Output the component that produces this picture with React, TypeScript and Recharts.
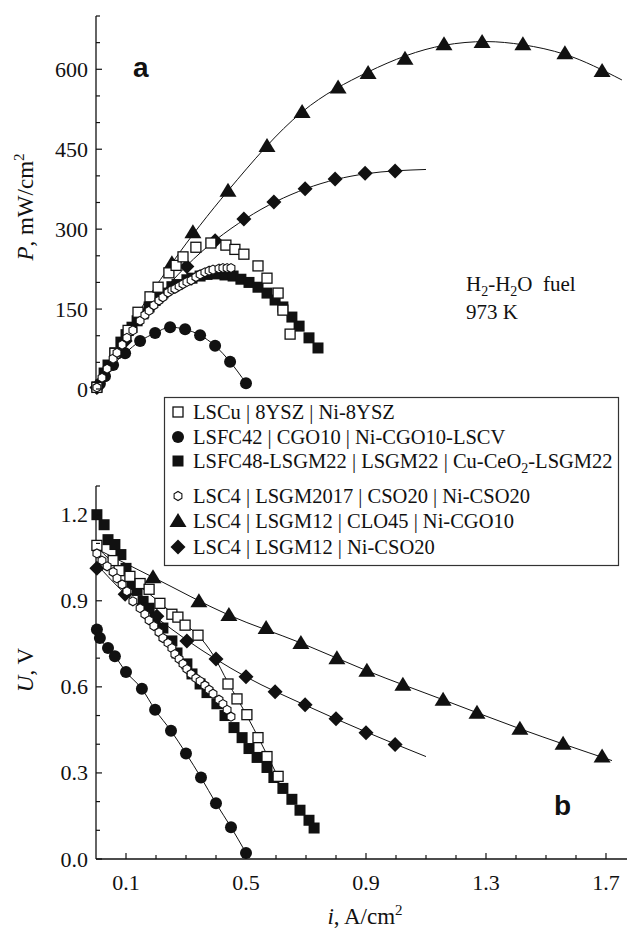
import React from 'react';
import { ComposedChart, Line, Scatter, XAxis, YAxis } from 'recharts';

const serif = "'Liberation Serif', 'Times New Roman', serif";
const sans = "'Liberation Sans', Arial, sans-serif";
const INK = '#111';

// ---------- Panel a : power density P (mW/cm2) vs i (A/cm2) ----------
const aLSCu_i = [0.003, 0.063, 0.107, 0.14, 0.18, 0.207, 0.243, 0.267, 0.29, 0.333, 0.383, 0.433, 0.463, 0.493, 0.54, 0.57, 0.607, 0.623, 0.647];
const aLSCu_P = [3, 67, 110, 144, 173, 191, 218, 232, 248, 266, 274, 270, 262, 253, 231, 208, 180, 148, 103];

const aLSFC42_i = [0.003, 0.013, 0.03, 0.057, 0.097, 0.147, 0.197, 0.247, 0.297, 0.347, 0.397, 0.447, 0.5];
const aLSFC42_P = [3, 10, 24, 45, 67, 90, 105, 116, 112, 101, 81, 51, 11];

const aLSFC48_i = [0.003, 0.027, 0.04, 0.063, 0.083, 0.1, 0.12, 0.137, 0.157, 0.177, 0.197, 0.223, 0.253, 0.27, 0.303, 0.32, 0.347, 0.37, 0.403, 0.43, 0.457, 0.483, 0.51, 0.54, 0.57, 0.597, 0.623, 0.653, 0.677, 0.71, 0.74];
const aLSFC48_P = [4, 30, 45, 68, 88, 102, 116, 128, 141, 154, 166, 180, 192, 196, 205, 208, 212, 215, 216, 214, 212, 206, 200, 191, 180, 167, 154, 135, 118, 96, 77];

const aLSC2017_i = [0.003, 0.02, 0.037, 0.057, 0.07, 0.087, 0.103, 0.123, 0.147, 0.163, 0.177, 0.193, 0.21, 0.223, 0.24, 0.253, 0.263, 0.277, 0.29, 0.303, 0.317, 0.333, 0.347, 0.363, 0.377, 0.39, 0.41, 0.423, 0.437, 0.45];
const aLSC2017_P = [3, 21, 38, 57, 68, 83, 96, 110, 128, 139, 147, 157, 166, 172, 181, 186, 188, 193, 197, 201, 204, 210, 215, 219, 222, 224, 226, 227, 227, 227];

const aCLO45_i = [0.253, 0.323, 0.44, 0.57, 0.687, 0.807, 0.907, 1.03, 1.16, 1.287, 1.423, 1.563, 1.687];
const aCLO45_P = [236, 294, 372, 456, 520, 566, 593, 620, 647, 651, 647, 630, 597];
const aCLO45fit_i = [0, 0.1, 0.253, 0.44, 0.687, 0.907, 1.16, 1.3, 1.423, 1.563, 1.753];
const aCLO45fit_P = [0, 105, 236, 372, 520, 595, 645, 652, 646, 628, 580];

const aCSO_i = [0.003, 0.097, 0.203, 0.303, 0.397, 0.493, 0.593, 0.697, 0.797, 0.897, 0.997];
const aCSO_P = [3, 90, 172, 230, 278, 319, 351, 376, 394, 405, 409];
const aCSOfit_i = [0, 0.1, 0.3, 0.5, 0.7, 0.9, 1.1];
const aCSOfit_P = [0, 92, 230, 320, 376, 404, 412];

// ---------- Panel b : cell voltage U (V) vs i (A/cm2) ----------
const bLSCu_i = [0.003, 0.057, 0.077, 0.113, 0.147, 0.177, 0.213, 0.253, 0.273, 0.297, 0.34, 0.44, 0.47, 0.503, 0.54, 0.57, 0.607];
const bLSCu_U = [1.093, 1.04, 1.005, 0.985, 0.96, 0.94, 0.891, 0.853, 0.843, 0.815, 0.78, 0.61, 0.558, 0.503, 0.423, 0.357, 0.288];
const bLSCufit_i = [0, 0.1, 0.2, 0.3, 0.34, 0.39, 0.44, 0.5, 0.55, 0.607];
const bLSCufit_U = [1.09, 0.99, 0.905, 0.815, 0.78, 0.712, 0.615, 0.505, 0.405, 0.285];

const bLSFC42_i = [0.003, 0.013, 0.04, 0.063, 0.1, 0.153, 0.197, 0.25, 0.3, 0.35, 0.4, 0.45, 0.5];
const bLSFC42_U = [0.8, 0.77, 0.735, 0.707, 0.652, 0.593, 0.52, 0.447, 0.368, 0.284, 0.194, 0.111, 0.021];

const bLSFC48_i = [0.003, 0.027, 0.04, 0.063, 0.083, 0.1, 0.12, 0.137, 0.157, 0.177, 0.197, 0.223, 0.253, 0.27, 0.303, 0.32, 0.347, 0.37, 0.403, 0.43, 0.46, 0.487, 0.51, 0.537, 0.57, 0.593, 0.623, 0.653, 0.68, 0.71, 0.727];
const bLSFC48_U = [1.2, 1.165, 1.113, 1.096, 1.061, 1.013, 0.957, 0.936, 0.898, 0.874, 0.839, 0.805, 0.76, 0.718, 0.68, 0.645, 0.61, 0.58, 0.541, 0.5, 0.458, 0.423, 0.385, 0.354, 0.319, 0.284, 0.246, 0.208, 0.17, 0.135, 0.108];

const bLSC2017_i = [0.003, 0.02, 0.037, 0.057, 0.07, 0.087, 0.103, 0.123, 0.147, 0.163, 0.177, 0.193, 0.21, 0.223, 0.24, 0.253, 0.263, 0.277, 0.29, 0.303, 0.317, 0.333, 0.347, 0.363, 0.377, 0.39, 0.41, 0.423, 0.437, 0.45];
const bLSC2017_U = [1.065, 1.04, 1.02, 1.0, 0.978, 0.957, 0.933, 0.898, 0.874, 0.853, 0.832, 0.812, 0.79, 0.77, 0.753, 0.735, 0.714, 0.697, 0.68, 0.662, 0.645, 0.63, 0.62, 0.605, 0.59, 0.576, 0.555, 0.54, 0.52, 0.496];
const bLSC2017fit_i = [0, 0.1, 0.2, 0.3, 0.4, 0.45];
const bLSC2017fit_U = [1.075, 0.937, 0.805, 0.668, 0.565, 0.497];

const bCLO45_i = [0.19, 0.343, 0.443, 0.567, 0.683, 0.803, 0.903, 1.023, 1.157, 1.27, 1.413, 1.557, 1.687];
const bCLO45_U = [0.982, 0.898, 0.85, 0.805, 0.753, 0.7, 0.656, 0.607, 0.555, 0.51, 0.454, 0.402, 0.357];
const bCLO45fit_i = [0, 0.19, 0.443, 0.683, 0.903, 1.157, 1.413, 1.72];
const bCLO45fit_U = [1.082, 0.982, 0.85, 0.753, 0.656, 0.555, 0.454, 0.343];

const bCSO_i = [0.003, 0.097, 0.203, 0.303, 0.4, 0.5, 0.597, 0.697, 0.8, 0.9, 0.997];
const bCSO_U = [1.013, 0.923, 0.846, 0.76, 0.697, 0.635, 0.583, 0.538, 0.489, 0.44, 0.399];
const bCSOfit_i = [0, 0.097, 0.2, 0.3, 0.5, 0.7, 0.9, 1.1];
const bCSOfit_U = [1.03, 0.925, 0.842, 0.765, 0.635, 0.535, 0.443, 0.357];

// ---------- axes ----------
const xDomain = [0, 1.7767];
const xTicksBottom = [0.1, 0.2, 0.3, 0.4, 0.5, 0.6, 0.7, 0.8, 0.9, 1.0, 1.1, 1.2, 1.3, 1.4, 1.5, 1.6, 1.7];
const xLabelsBottom = [0.1, 0.5, 0.9, 1.3, 1.7];
const xTicksTop = [0.2, 0.4, 0.6, 0.8, 1.0, 1.2, 1.4, 1.6];
const pDomain = [0, 700];
const pTicks = [0, 50, 100, 150, 200, 250, 300, 350, 400, 450, 500, 550, 600, 650, 700];
const pLabels = [0, 150, 300, 450, 600];
const uDomain = [0, 1.3];
const uTicks = [0, 0.1, 0.2, 0.3, 0.4, 0.5, 0.6, 0.7, 0.8, 0.9, 1.0, 1.1, 1.2, 1.3];
const uLabels = [0, 0.3, 0.6, 0.9, 1.2];

const legendNames = [
  'LSCu | 8YSZ | Ni-8YSZ',
  'LSFC42 | CGO10 | Ni-CGO10-LSCV',
  'LSFC48-LSGM22 | LSGM22 | Cu-CeO2-LSGM22',
  'LSC4 | LSGM2017 | CSO20 | Ni-CSO20',
  'LSC4 | LSGM12 | CLO45 | Ni-CGO10',
  'LSC4 | LSGM12 | Ni-CSO20',
];

const zip = (xs: number[], ys: number[]) => xs.map((x, k) => ({ i: x, v: ys[k] }));
const has = (arr: number[], v: number) => arr.some((a) => Math.abs(a - v) < 1e-6);

// ---------- markers ----------
const OpenSquare = ({ cx, cy }: any) => (
  <rect x={cx - 5} y={cy - 5} width={10} height={10} fill="#fff" stroke={INK} strokeWidth={1.3} />
);
const FilledCircle = ({ cx, cy }: any) => <circle cx={cx} cy={cy} r={6} fill={INK} />;
const FilledSquare = ({ cx, cy }: any) => (
  <rect x={cx - 5.5} y={cy - 5.5} width={11} height={11} fill={INK} />
);
const Hexagon = ({ cx, cy }: any) => {
  const r = 4.5;
  const pts = [0, 1, 2, 3, 4, 5]
    .map((k) => {
      const a = (Math.PI / 3) * k + Math.PI / 6;
      return `${cx + r * Math.cos(a)},${cy + r * Math.sin(a)}`;
    })
    .join(' ');
  return <polygon points={pts} fill="#fff" stroke={INK} strokeWidth={1.1} />;
};
const Triangle = ({ cx, cy }: any) => (
  <polygon points={`${cx},${cy - 8} ${cx + 8.5},${cy + 6} ${cx - 8.5},${cy + 6}`} fill={INK} />
);
const Diamond = ({ cx, cy }: any) => (
  <polygon points={`${cx},${cy - 7.5} ${cx + 7.5},${cy} ${cx},${cy + 7.5} ${cx - 7.5},${cy}`} fill={INK} />
);

// ---------- ticks ----------
const LeftTick = ({ x, y, payload, labels, digits }: any) => {
  const v = payload.value;
  const major = has(labels, v);
  return (
    <g>
      <line x1={x} y1={y} x2={x + (major ? 6 : 4)} y2={y} stroke={INK} strokeWidth={1.2} />
      {major && (
        <text x={x - 8} y={y + 7.5} textAnchor="end" fontFamily={serif} fontSize={22} fill={INK}>
          {v.toFixed(digits)}
        </text>
      )}
    </g>
  );
};
const RightTick = ({ x, y, payload, labels }: any) => {
  const major = has(labels, payload.value);
  if (!major) return <g />;
  return <line x1={x - 5} y1={y} x2={x} y2={y} stroke={INK} strokeWidth={1.2} />;
};
const TopTick = ({ x, y }: any) => <line x1={x} y1={y} x2={x} y2={y + 6} stroke={INK} strokeWidth={1.2} />;
const BottomTick = ({ x, y, payload }: any) => {
  const v = payload.value;
  const major = has(xLabelsBottom, v);
  return (
    <g>
      <line x1={x} y1={y} x2={x} y2={y - (major ? 6 : 4)} stroke={INK} strokeWidth={1.2} />
      {major && (
        <text x={x} y={y + 31} textAnchor="middle" fontFamily={serif} fontSize={22} fill={INK}>
          {v.toFixed(1)}
        </text>
      )}
    </g>
  );
};

const TopPanel = () => (
  <ComposedChart width={640} height={400} margin={{ top: 16, right: 11, bottom: 11, left: 0 }}>
    <XAxis
      type="number"
      dataKey="i"
      orientation="top"
      domain={xDomain}
      ticks={xTicksTop}
      interval={0}
      height={0}
      tickSize={0}
      tickMargin={0}
      tickLine={false}
      axisLine={{ stroke: INK, strokeWidth: 1.3 }}
      tick={(p: any) => <TopTick {...p} />}
    />
    <YAxis
      yAxisId="l"
      type="number"
      domain={pDomain}
      ticks={pTicks}
      interval={0}
      width={96}
      tickSize={0}
      tickMargin={0}
      tickLine={false}
      axisLine={{ stroke: INK, strokeWidth: 1.3 }}
      tick={(p: any) => <LeftTick {...p} labels={pLabels} digits={0} />}
    />
    <YAxis
      yAxisId="r"
      orientation="right"
      type="number"
      domain={pDomain}
      ticks={pTicks}
      interval={0}
      width={0}
      tickSize={0}
      tickMargin={0}
      tickLine={false}
      axisLine={false}
      tick={(p: any) => <RightTick {...p} labels={pLabels} />}
    />
    <Line yAxisId="l" data={zip(aLSFC42_i, aLSFC42_P)} dataKey="v" type="monotone" stroke={INK} strokeWidth={1} dot={false} activeDot={false} isAnimationActive={false} />
    <Line yAxisId="l" data={zip(aCLO45fit_i, aCLO45fit_P)} dataKey="v" type="monotone" stroke={INK} strokeWidth={1} dot={false} activeDot={false} isAnimationActive={false} />
    <Line yAxisId="l" data={zip(aCSOfit_i, aCSOfit_P)} dataKey="v" type="monotone" stroke={INK} strokeWidth={1} dot={false} activeDot={false} isAnimationActive={false} />
    <Scatter yAxisId="l" data={zip(aLSFC48_i, aLSFC48_P)} dataKey="v" shape={(p: any) => <FilledSquare {...p} />} isAnimationActive={false} />
    <Scatter yAxisId="l" data={zip(aLSFC42_i, aLSFC42_P)} dataKey="v" shape={(p: any) => <FilledCircle {...p} />} isAnimationActive={false} />
    <Scatter yAxisId="l" data={zip(aCLO45_i, aCLO45_P)} dataKey="v" shape={(p: any) => <Triangle {...p} />} isAnimationActive={false} />
    <Scatter yAxisId="l" data={zip(aCSO_i, aCSO_P)} dataKey="v" shape={(p: any) => <Diamond {...p} />} isAnimationActive={false} />
    <Scatter yAxisId="l" data={zip(aLSCu_i, aLSCu_P)} dataKey="v" shape={(p: any) => <OpenSquare {...p} />} isAnimationActive={false} />
    <Scatter yAxisId="l" data={zip(aLSC2017_i, aLSC2017_P)} dataKey="v" shape={(p: any) => <Hexagon {...p} />} isAnimationActive={false} />
  </ComposedChart>
);

const BottomPanel = () => (
  <ComposedChart width={640} height={461} margin={{ top: 16, right: 11, bottom: 0, left: 0 }}>
    <XAxis
      type="number"
      dataKey="i"
      orientation="bottom"
      domain={xDomain}
      ticks={xTicksBottom}
      interval={0}
      height={72}
      tickSize={0}
      tickMargin={0}
      tickLine={false}
      axisLine={{ stroke: INK, strokeWidth: 1.3 }}
      tick={(p: any) => <BottomTick {...p} />}
    />
    <YAxis
      yAxisId="l"
      type="number"
      domain={uDomain}
      ticks={uTicks}
      interval={0}
      width={96}
      tickSize={0}
      tickMargin={0}
      tickLine={false}
      axisLine={{ stroke: INK, strokeWidth: 1.3 }}
      tick={(p: any) => <LeftTick {...p} labels={uLabels} digits={1} />}
    />
    <YAxis
      yAxisId="r"
      orientation="right"
      type="number"
      domain={uDomain}
      ticks={uTicks}
      interval={0}
      width={0}
      tickSize={0}
      tickMargin={0}
      tickLine={false}
      axisLine={false}
      tick={(p: any) => <RightTick {...p} labels={uLabels} />}
    />
    <Line yAxisId="l" data={zip(bLSFC42_i, bLSFC42_U)} dataKey="v" type="monotone" stroke={INK} strokeWidth={1} dot={false} activeDot={false} isAnimationActive={false} />
    <Line yAxisId="l" data={zip(bLSCufit_i, bLSCufit_U)} dataKey="v" type="monotone" stroke={INK} strokeWidth={1} dot={false} activeDot={false} isAnimationActive={false} />
    <Line yAxisId="l" data={zip(bLSC2017fit_i, bLSC2017fit_U)} dataKey="v" type="monotone" stroke={INK} strokeWidth={1} dot={false} activeDot={false} isAnimationActive={false} />
    <Line yAxisId="l" data={zip(bCLO45fit_i, bCLO45fit_U)} dataKey="v" type="monotone" stroke={INK} strokeWidth={1} dot={false} activeDot={false} isAnimationActive={false} />
    <Line yAxisId="l" data={zip(bCSOfit_i, bCSOfit_U)} dataKey="v" type="monotone" stroke={INK} strokeWidth={1} dot={false} activeDot={false} isAnimationActive={false} />
    <Scatter yAxisId="l" data={zip(bLSFC48_i, bLSFC48_U)} dataKey="v" shape={(p: any) => <FilledSquare {...p} />} isAnimationActive={false} />
    <Scatter yAxisId="l" data={zip(bLSFC42_i, bLSFC42_U)} dataKey="v" shape={(p: any) => <FilledCircle {...p} />} isAnimationActive={false} />
    <Scatter yAxisId="l" data={zip(bCLO45_i, bCLO45_U)} dataKey="v" shape={(p: any) => <Triangle {...p} />} isAnimationActive={false} />
    <Scatter yAxisId="l" data={zip(bCSO_i, bCSO_U)} dataKey="v" shape={(p: any) => <Diamond {...p} />} isAnimationActive={false} />
    <Scatter yAxisId="l" data={zip(bLSCu_i, bLSCu_U)} dataKey="v" shape={(p: any) => <OpenSquare {...p} />} isAnimationActive={false} />
    <Scatter yAxisId="l" data={zip(bLSC2017_i, bLSC2017_U)} dataKey="v" shape={(p: any) => <Hexagon {...p} />} isAnimationActive={false} />
  </ComposedChart>
);

const legendMarkers = [OpenSquare, FilledCircle, FilledSquare, Hexagon, Triangle, Diamond];
const legendBaselines = [419, 444, 468, 503, 528, 554];

const LegendRow = ({ name, k }: { name: string; k: number }) => {
  const M = legendMarkers[k];
  const base = legendBaselines[k];
  let content: any = name;
  if (name.includes('CeO2')) {
    const [pre, post] = name.split('CeO2');
    content = (
      <>
        {pre + 'CeO'}
        <tspan fontSize={14} dy={5}>2</tspan>
        <tspan dy={-5}>{post}</tspan>
      </>
    );
  }
  return (
    <g>
      <M cx={178} cy={base - 7} />
      <text x={193} y={base} fontFamily={serif} fontSize={20.5} fill={INK}>
        {content}
      </text>
    </g>
  );
};

export default function App() {
  return (
    <div style={{ position: 'absolute', left: 0, top: 0, width: 627, height: 931, overflow: 'hidden', background: '#fff' }}>
      <div style={{ position: 'absolute', left: 0, top: 0 }}>
        <TopPanel />
      </div>
      <div style={{ position: 'absolute', left: 0, top: 470 }}>
        <BottomPanel />
      </div>
      <svg width={627} height={931} style={{ position: 'absolute', left: 0, top: 0, pointerEvents: 'none' }}>
        <rect x={164.5} y={397.5} width={454} height={168} fill="#fff" stroke="#333" strokeWidth={1.2} />
        {legendNames.map((n, k) => (
          <LegendRow key={n} name={n} k={k} />
        ))}
        <text x={133} y={77} fontFamily={sans} fontWeight="bold" fontSize={28} fill={INK}>a</text>
        <text x={554} y={815} fontFamily={sans} fontWeight="bold" fontSize={28} fill={INK}>b</text>
        <text x={466} y={291} fontFamily={serif} fontSize={21} fill={INK}>
          H<tspan fontSize={14} dy={5}>2</tspan>
          <tspan dy={-5}>-H</tspan>
          <tspan fontSize={14} dy={5}>2</tspan>
          <tspan dy={-5}>O{'\u00a0\u00a0'}fuel</tspan>
        </text>
        <text x={466} y={319} fontFamily={serif} fontSize={21} fill={INK}>973 K</text>
        <text transform="translate(33,207) rotate(-90)" textAnchor="middle" fontFamily={serif} fontSize={23} fill={INK}>
          <tspan fontStyle="italic">P</tspan>, mW/cm<tspan fontSize={15} dy={-9}>2</tspan>
        </text>
        <text transform="translate(33,670) rotate(-90)" textAnchor="middle" fontFamily={serif} fontSize={23} fill={INK}>
          <tspan fontStyle="italic">U</tspan>, V
        </text>
        <text x={365} y={924} textAnchor="middle" fontFamily={serif} fontSize={23} fill={INK}>
          <tspan fontStyle="italic">i</tspan>, A/cm<tspan fontSize={15} dy={-9}>2</tspan>
        </text>
      </svg>
    </div>
  );
}
